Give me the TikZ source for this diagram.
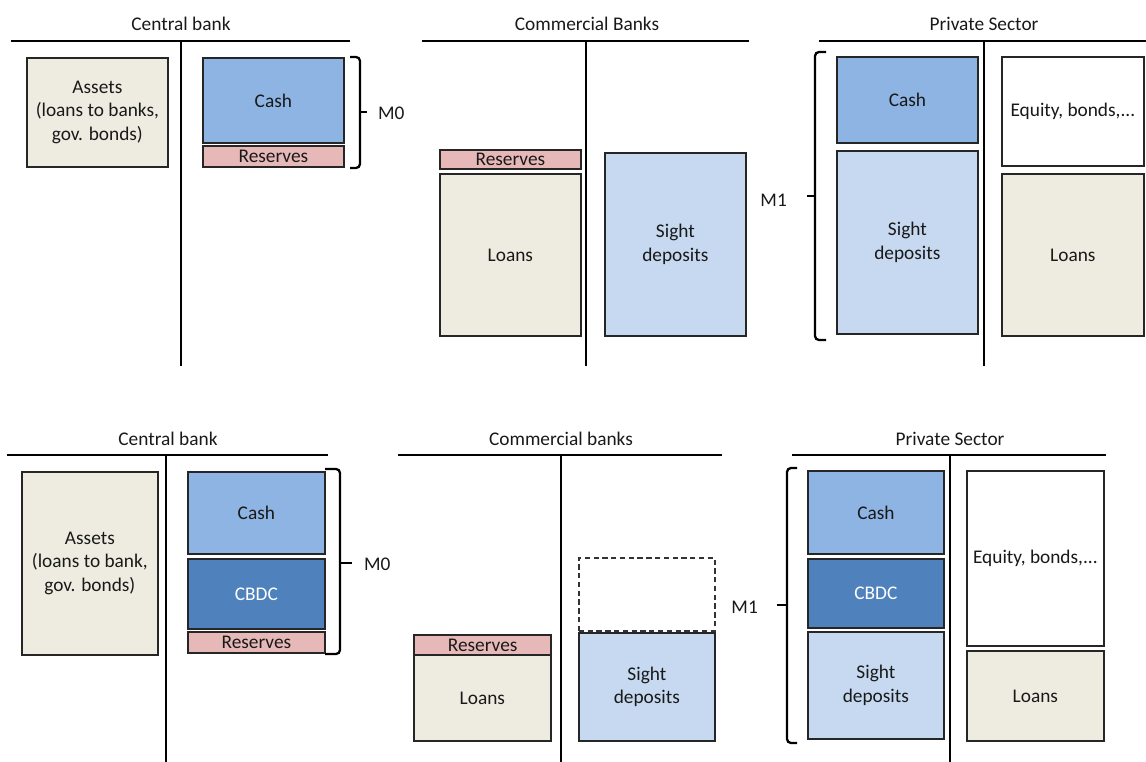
\documentclass[tikz,border=0pt]{standalone}
\usepackage{fontspec}
\setmainfont{Carlito}
\usetikzlibrary{positioning}
\definecolor{tan}{HTML}{EEECE1}
\definecolor{cashblue}{HTML}{8EB4E3}
\definecolor{sightblue}{HTML}{C6D9F1}
\definecolor{cbdcblue}{HTML}{4F81BD}
\definecolor{resred}{HTML}{E6B9B8}
\tikzset{
  every node/.style = {font=\fontsize{11}{13.5}\selectfont, text=black!90},
  acct/.style = {draw=black!85, line width=1pt, anchor=north west,
    inner sep=1pt, align=center},
  tanbox/.style = {acct, fill=tan},
  cashbox/.style = {acct, fill=cashblue},
  sightbox/.style = {acct, fill=sightblue},
  cbdcbox/.style = {acct, fill=cbdcblue, text=white},
  resbox/.style = {acct, fill=resred},
  emptybox/.style = {acct, fill=white},
  gapbox/.style = {acct, draw=black!80, dash pattern=on 3pt off 2pt},
  rule/.style = {line width=1.6pt},
  thinrule/.style = {line width=1pt},
  mbrace/.style = {line width=1.3pt, rounded corners=0.8mm}
}

\begin{document}
\begin{tikzpicture}[x=0.2mm, y=-0.2mm]
  \useasboundingbox (0,0) rectangle (1146,762);

  % before CBDC
  \node (cbT) at (181,24) {Central bank};
  \draw[rule] (11,41) -- (350,41);
  \draw[thinrule] (181,41) -- (181,366);
  \node[tanbox, minimum width=28.2mm, minimum height=21.8mm] (cbAssets) at (26,57)
    {\fontsize{11}{11.5}\selectfont Assets\\(loans to banks,\\gov. bonds)};
  \node[cashbox, minimum width=28.2mm, minimum height=17mm] (cbCash) at (202,57) {Cash};
  \node[resbox, minimum width=28.2mm, minimum height=4.2mm] (cbRes) at (202,145) {Reserves};
  \draw[mbrace] (350,57) -- (360,57) -- (360,168) -- (350,168);
  \draw[mbrace] (360,112) -- (367,112);
  \node[anchor=west] (cbM) at (372,113) {M0};

  \node (cmT) at (587,24) {Commercial Banks};
  \draw[rule] (422,41) -- (749,41);
  \draw[rule] (586,41) -- (586,366);
  \node[resbox, minimum width=28.2mm, minimum height=3.8mm] (cmRes) at (439,149) {Reserves};
  \node[tanbox, minimum width=28.2mm, minimum height=32.4mm] (cmLoans) at (439,173) {Loans};
  \node[sightbox, minimum width=28.2mm, minimum height=36.6mm] (cmSight) at (604,152) {Sight\\deposits};

  \node (psT) at (984,24) {Private Sector};
  \draw[rule] (819,41) -- (1146,41);
  \draw[thinrule] (984,41) -- (984,366);
  \node[cashbox, minimum width=28.2mm, minimum height=17.2mm] (psCash) at (836,56) {Cash};
  \node[sightbox, minimum width=28.2mm, minimum height=36.6mm] (psSight) at (836,150) {Sight\\deposits};
  \node[emptybox, minimum width=28.4mm, minimum height=21.8mm] (psEquity) at (1001,56) {Equity, bonds,...};
  \node[tanbox, minimum width=28.4mm, minimum height=32.4mm] (psLoans) at (1001,173) {Loans};
  \draw[mbrace] (826,52) -- (815,52) -- (815,340) -- (826,340);
  \draw[mbrace] (815,196) -- (807,196);
  \node[anchor=east] (psM) at (793,200) {M1};

  % with CBDC
  \node (cbTB) at (168,439) {Central bank};
  \draw[thinrule] (7,455) -- (328,455);
  \draw[thinrule] (166,455) -- (166,762);
  \node[tanbox, minimum width=27.2mm, minimum height=36.6mm] (cbAssetsB) at (21,471)
    {\fontsize{11}{11.5}\selectfont Assets\\(loans to bank,\\gov. bonds)};
  \node[cashbox, minimum width=27.4mm, minimum height=16.4mm] (cbCashB) at (187,471) {Cash};
  \node[cbdcbox, minimum width=27.4mm, minimum height=14mm] (cbCbdcB) at (187,558) {CBDC};
  \node[resbox, minimum width=27.4mm, minimum height=4.2mm] (cbResB) at (187,631) {Reserves};
  \draw[mbrace] (325,469) -- (340,469) -- (340,654) -- (325,654);
  \draw[mbrace] (340,563) -- (352,563);
  \node[anchor=west] (cbMB) at (358,564) {M0};

  \node (cmTB) at (561,439) {Commercial banks};
  \draw[thinrule] (398,455) -- (722,455);
  \draw[rule] (561,455) -- (561,762);
  \node[tanbox, minimum width=27.4mm, minimum height=17.2mm] (cmLoansB) at (413,654) {Loans};
  \node[resbox, line width=1.3pt, minimum width=27.4mm, minimum height=4mm] (cmResB) at (413,634) {Reserves};
  \node[gapbox, minimum width=27.2mm, minimum height=14.6mm] (cmGapB) at (578,557) {};
  \node[sightbox, minimum width=27.2mm, minimum height=21.6mm] (cmSightB) at (578,632) {Sight\\deposits};

  \node (psTB) at (950,439) {Private Sector};
  \draw[thinrule] (792,455) -- (1106,455);
  \draw[rule] (950,455) -- (950,762);
  \node[cashbox, minimum width=27.2mm, minimum height=16.6mm] (psCashB) at (807,470) {Cash};
  \node[cbdcbox, minimum width=27.2mm, minimum height=13.8mm] (psCbdcB) at (807,558) {CBDC};
  \node[sightbox, minimum width=27.2mm, minimum height=21.4mm] (psSightB) at (807,631) {Sight\\deposits};
  \node[emptybox, minimum width=27.4mm, minimum height=35mm] (psEquityB) at (966,470) {Equity, bonds,...};
  \node[tanbox, minimum width=27.4mm, minimum height=18mm] (psLoansB) at (966,650) {Loans};
  \draw[mbrace] (797,468) -- (787,468) -- (787,743) -- (797,743);
  \draw[mbrace] (787,605) -- (777,605);
  \node[anchor=east] (psMB) at (764,607) {M1};
\end{tikzpicture}
\end{document}
